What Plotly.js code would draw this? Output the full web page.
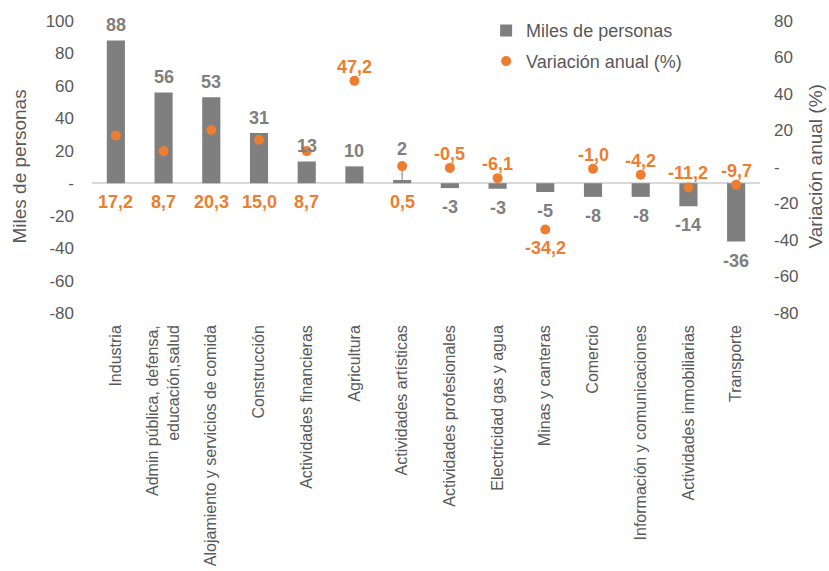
<!DOCTYPE html>
<html>
<head>
<meta charset="utf-8">
<script src="https://cdn.plot.ly/plotly-3.0.1.min.js"></script>
<style>html,body{margin:0;padding:0;background:#fff;}#chart{width:829px;height:571px;}</style>
</head>
<body>
<div id="chart"></div>
<script>
// ---- Data ----
const categories = [
  "Industria",
  "Admin pública, defensa,<br>educación,salud",
  "Alojamiento y servicios de comida",
  "Construcción",
  "Actividades financieras",
  "Agricultura",
  "Actividades artísticas",
  "Actividades profesionales",
  "Electricidad gas y agua",
  "Minas y canteras",
  "Comercio",
  "Información y comunicaciones",
  "Actividades inmobiliarias",
  "Transporte"
];
const milesPersonas = [88, 56, 53, 31, 13.4, 10.4, 2, -3, -3.4, -5.4, -8.4, -8.4, -14.2, -36];
const variacionAnual = [17.2, 8.7, 20.3, 15.0, 8.7, 47.2, 0.5, -0.5, -6.1, -34.2, -1.0, -4.2, -11.2, -9.7];
const leftTicks = [-80, -60, -40, -20, 0, 20, 40, 60, 80, 100];
const rightTicks = [-80, -60, -40, -20, 0, 20, 40, 60, 80];

// label placement style for the orange labels (style, not data)
const varLabelPos = ["axis","axis","axis","axis","axis","above","axis","above","above","below","above","above","above","above"];
const leaderIndex = 6; // category with a leader line between bar and dot

const GRAY = "#7f7f7f";
const ORANGE = "#ED7D31";
const TXT = "#595959";
const FONT = "Liberation Sans, Arial, sans-serif";

const Y1 = [leftTicks[0], leftTicks[leftTicks.length - 1]];
const Y2 = [rightTicks[0], rightTicks[rightTicks.length - 1]];

const tickText = v => v === 0 ? "-" : String(v);
const fmt = v => v.toFixed(1).replace(".", ",");
const frac = (v, r) => (v - r[0]) / (r[1] - r[0]);

const traces = [
  {
    type: "bar",
    name: "Miles de personas",
    x: categories,
    y: milesPersonas,
    marker: {color: GRAY},
    yaxis: "y",
    legend: "legend",
    hoverinfo: "skip"
  },
  {
    type: "scatter",
    mode: "markers",
    name: "Variación anual (%)",
    x: categories,
    y: variacionAnual,
    marker: {color: ORANGE, size: 10},
    yaxis: "y2",
    legend: "legend2",
    hoverinfo: "skip"
  }
];

const annotations = [];
categories.forEach((c, i) => {
  const v = milesPersonas[i];
  const b = {
    x: c, xref: "x",
    text: "<b>" + Math.round(v) + "</b>",
    showarrow: false,
    font: {family: FONT, size: 18, color: GRAY}
  };
  if (i === leaderIndex) { b.y = variacionAnual[i]; b.yref = "y2"; b.yshift = 17; }
  else { b.y = v; b.yref = "y"; b.yshift = v >= 0 ? 15 : -19; }
  annotations.push(b);
  const p = varLabelPos[i];
  const a = {
    x: c, xref: "x", showarrow: false,
    text: "<b>" + fmt(variacionAnual[i]) + "</b>",
    font: {family: FONT, size: 18, color: ORANGE}
  };
  if (p === "axis") { a.y = 0; a.yref = "y"; a.yshift = -19; }
  else if (p === "above") { a.y = variacionAnual[i]; a.yref = "y2"; a.yshift = 14; }
  else { a.y = variacionAnual[i]; a.yref = "y2"; a.yshift = -19; }
  annotations.push(a);
});

// axis titles
annotations.push({
  text: "Miles de personas", xref: "paper", yref: "paper",
  x: 0, y: 0.5, xshift: -86, textangle: -90, showarrow: false,
  font: {family: FONT, size: 19, color: TXT}
});
annotations.push({
  text: "Variación anual (%)", xref: "paper", yref: "paper",
  x: 1, y: 0.5, xshift: 67, textangle: -90, showarrow: false,
  font: {family: FONT, size: 19, color: TXT}
});

const shapes = [{
  type: "line", xref: "x", yref: "paper",
  x0: categories[leaderIndex], x1: categories[leaderIndex],
  y0: frac(milesPersonas[leaderIndex], Y1), y1: frac(variacionAnual[leaderIndex], Y2),
  line: {color: "#a6a6a6", width: 1.5}, layer: "below"
}];

const legendFont = {family: FONT, size: 18, color: TXT};

const layout = {
  width: 829, height: 571,
  margin: {l: 92, r: 69, t: 18, b: 258},
  paper_bgcolor: "#fff", plot_bgcolor: "#fff",
  font: {family: FONT, color: TXT, size: 17},
  showlegend: true,
  legend: {
    x: 0.59, y: 1.03, xanchor: "left", yanchor: "top",
    font: legendFont, bgcolor: "rgba(0,0,0,0)", itemwidth: 30
  },
  legend2: {
    x: 0.59, y: 0.925, xanchor: "left", yanchor: "top",
    font: legendFont, bgcolor: "rgba(0,0,0,0)", itemwidth: 30
  },
  bargap: 0.62,
  xaxis: {
    type: "category",
    range: [-0.5, categories.length - 0.5],
    tickangle: -90,
    tickfont: {family: FONT, size: 16, color: TXT},
    showgrid: false, showline: false, ticks: "",
    ticklabelstandoff: 8,
    automargin: false,
    fixedrange: true
  },
  yaxis: {
    range: Y1,
    tickvals: leftTicks,
    ticktext: leftTicks.map(tickText),
    showgrid: false, showline: false,
    zeroline: true, zerolinecolor: "#d9d9d9", zerolinewidth: 2,
    ticks: "", ticklabelstandoff: 17,
    automargin: false,
    tickfont: {family: FONT, size: 17, color: TXT}
  },
  yaxis2: {
    overlaying: "y", side: "right",
    range: Y2,
    tickvals: rightTicks,
    ticktext: rightTicks.map(tickText),
    showgrid: false, showline: false, zeroline: false,
    ticks: "", ticklabelstandoff: 13,
    automargin: false,
    tickfont: {family: FONT, size: 17, color: TXT}
  },
  shapes: shapes,
  annotations: annotations
};

Plotly.newPlot("chart", traces, layout, {displayModeBar: false, staticPlot: true});
</script>
</body>
</html>
